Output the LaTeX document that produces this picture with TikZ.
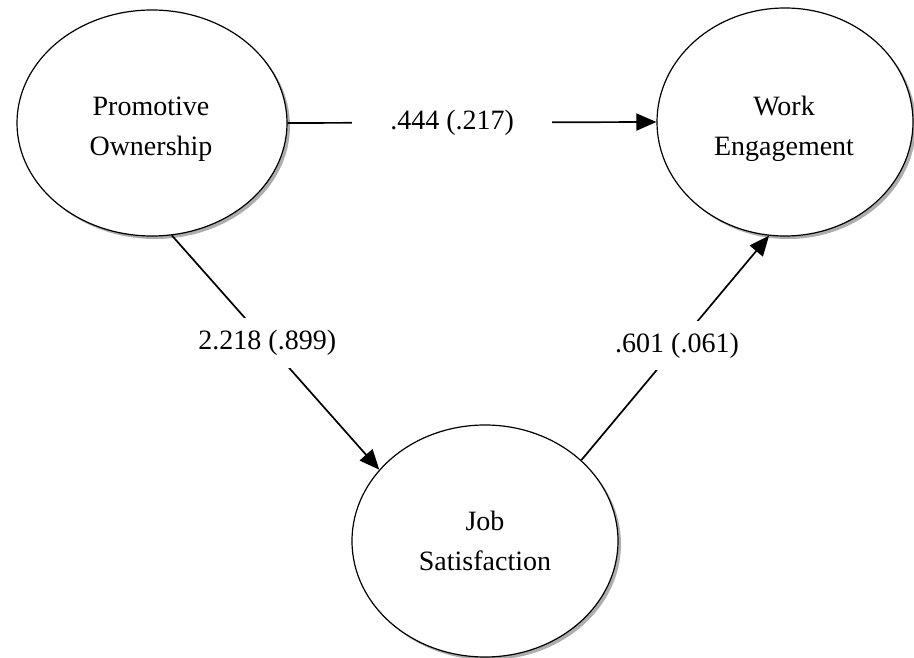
\documentclass[tikz,border=0pt]{standalone}
\usepackage{fontspec}
\setmainfont{Liberation Serif}
\usetikzlibrary{shapes.geometric,arrows.meta,shadows}
\begin{document}
\begin{tikzpicture}[x=1pt,y=-1pt,
  latent/.style={ellipse,draw=black,line width=1.2pt,fill=white,inner sep=0pt,
    drop shadow={shadow xshift=3pt,shadow yshift=-3pt,fill=gray!80,opacity=0.8}},
  vartext/.style={align=center,inner sep=0pt,font=\fontsize{28}{40}\selectfont},
  arc/.style={line width=1.7pt,-{Triangle[length=20pt,width=17pt]}},
  coef/.style={fill=white,inner xsep=4pt,inner ysep=12pt,font=\fontsize{28}{34}\selectfont}]
\useasboundingbox (0,0) rectangle (914,658);
\node[latent,minimum width=270pt,minimum height=226pt] (po) at (152,123) {};
\node[latent,minimum width=256pt,minimum height=228pt] (we) at (785,122) {};
\node[latent,minimum width=266pt,minimum height=232pt] (js) at (485,541) {};
\node[vartext] (pot) at (151,129) {Promotive\\Ownership};
\node[vartext] (wet) at (784,129) {Work\\Engagement};
\node[vartext] (jst) at (485,541) {Job\\Satisfaction};
\draw[arc] (po.east) -- node[coef,pos=0.446,minimum width=200pt] (l1) {.444 (.217)} (we.west);
\draw[arc] (po.280) -- node[coef,pos=0.46] (l2) {2.218 (.899)} (js.146);
\draw[arc] (js.40) -- node[coef,pos=0.51] (l3) {.601 (.061)} (we.262);
\end{tikzpicture}
\end{document}
